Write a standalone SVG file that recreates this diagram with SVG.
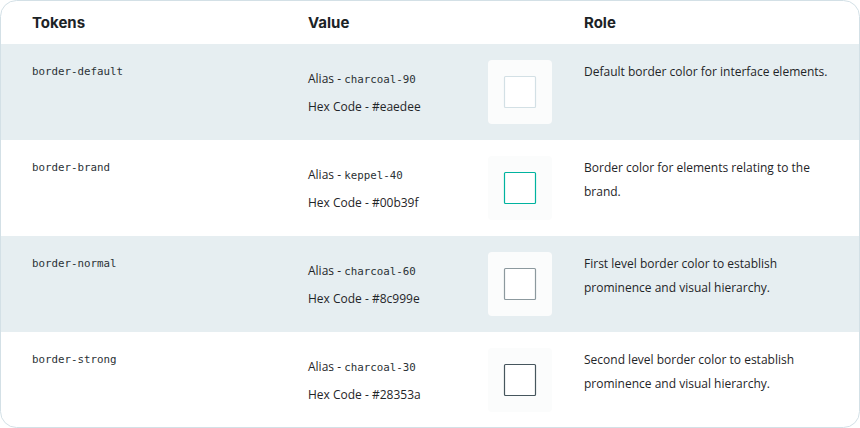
<svg xmlns="http://www.w3.org/2000/svg" width="860" height="428" viewBox="0 0 860 428">
<style>
.hdr{font-family:Inter,"Open Sans",sans-serif;font-weight:700;font-size:15px;fill:#1c2326}
.tok{font-family:"DejaVu Sans Mono",monospace;font-size:10.8px;fill:#2b3236}
.val{font-family:"Open Sans","Noto Sans",sans-serif;font-size:12px;fill:#1f2528}
.mono{font-family:"DejaVu Sans Mono",monospace;font-size:10.8px;fill:#2b3236}
.role{font-family:"Open Sans","Noto Sans",sans-serif;font-size:12px;fill:#1f2528}
.tile{fill:#fbfcfc}
.sw{stroke-width:1.2;fill:#ffffff}
</style>
<defs>
<clipPath id="clip"><rect x="0.5" y="0.5" width="859" height="427" rx="16"/></clipPath>
</defs>
<rect x="0.5" y="0.5" width="859" height="427" rx="16" fill="#ffffff"/>
<g clip-path="url(#clip)">
<rect x="0" y="44" width="860" height="96" fill="#e6eef1"/>
<rect x="0" y="236" width="860" height="96" fill="#e6eef1"/>
</g>
<rect x="0.5" y="0.5" width="859" height="427" rx="16" fill="none" stroke="#d3e0e6"/>
<g id="header">
<text class="hdr" x="32" y="28">Tokens</text>
<text class="hdr" x="308" y="28">Value</text>
<text class="hdr" x="584" y="28">Role</text>
</g>
<g id="row-default">
<text class="tok" x="32" y="75">border-default</text>
<text class="val" x="308" y="83">Alias - <tspan class="mono">charcoal-90</tspan></text>
<text class="val" x="308" y="111">Hex Code - #eaedee</text>
<rect class="tile" x="488" y="60" width="64" height="64" rx="4"/>
<rect class="sw" x="504.5" y="76.5" width="31" height="31" rx="1" stroke="#d3e0e5"/>
<text class="role" x="584" y="76">Default border color for interface elements.</text>
</g>
<g id="row-brand">
<text class="tok" x="32" y="171">border-brand</text>
<text class="val" x="308" y="179">Alias - <tspan class="mono">keppel-40</tspan></text>
<text class="val" x="308" y="207">Hex Code - #00b39f</text>
<rect class="tile" x="488" y="156" width="64" height="64" rx="4"/>
<rect class="sw" x="504.5" y="172.5" width="31" height="31" rx="1" stroke="#00b39f"/>
<text class="role" x="584" y="172">Border color for elements relating to the</text>
<text class="role" x="584" y="196">brand.</text>
</g>
<g id="row-normal">
<text class="tok" x="32" y="267">border-normal</text>
<text class="val" x="308" y="275">Alias - <tspan class="mono">charcoal-60</tspan></text>
<text class="val" x="308" y="303">Hex Code - #8c999e</text>
<rect class="tile" x="488" y="252" width="64" height="64" rx="4"/>
<rect class="sw" x="504.5" y="268.5" width="31" height="31" rx="1" stroke="#8c999e"/>
<text class="role" x="584" y="268">First level border color to establish</text>
<text class="role" x="584" y="292">prominence and visual hierarchy.</text>
</g>
<g id="row-strong">
<text class="tok" x="32" y="363">border-strong</text>
<text class="val" x="308" y="371">Alias - <tspan class="mono">charcoal-30</tspan></text>
<text class="val" x="308" y="399">Hex Code - #28353a</text>
<rect class="tile" x="488" y="348" width="64" height="64" rx="4"/>
<rect class="sw" x="504.5" y="364.5" width="31" height="31" rx="1" stroke="#46565d"/>
<text class="role" x="584" y="364">Second level border color to establish</text>
<text class="role" x="584" y="388">prominence and visual hierarchy.</text>
</g>
<g id="connectors"/>
</svg>
